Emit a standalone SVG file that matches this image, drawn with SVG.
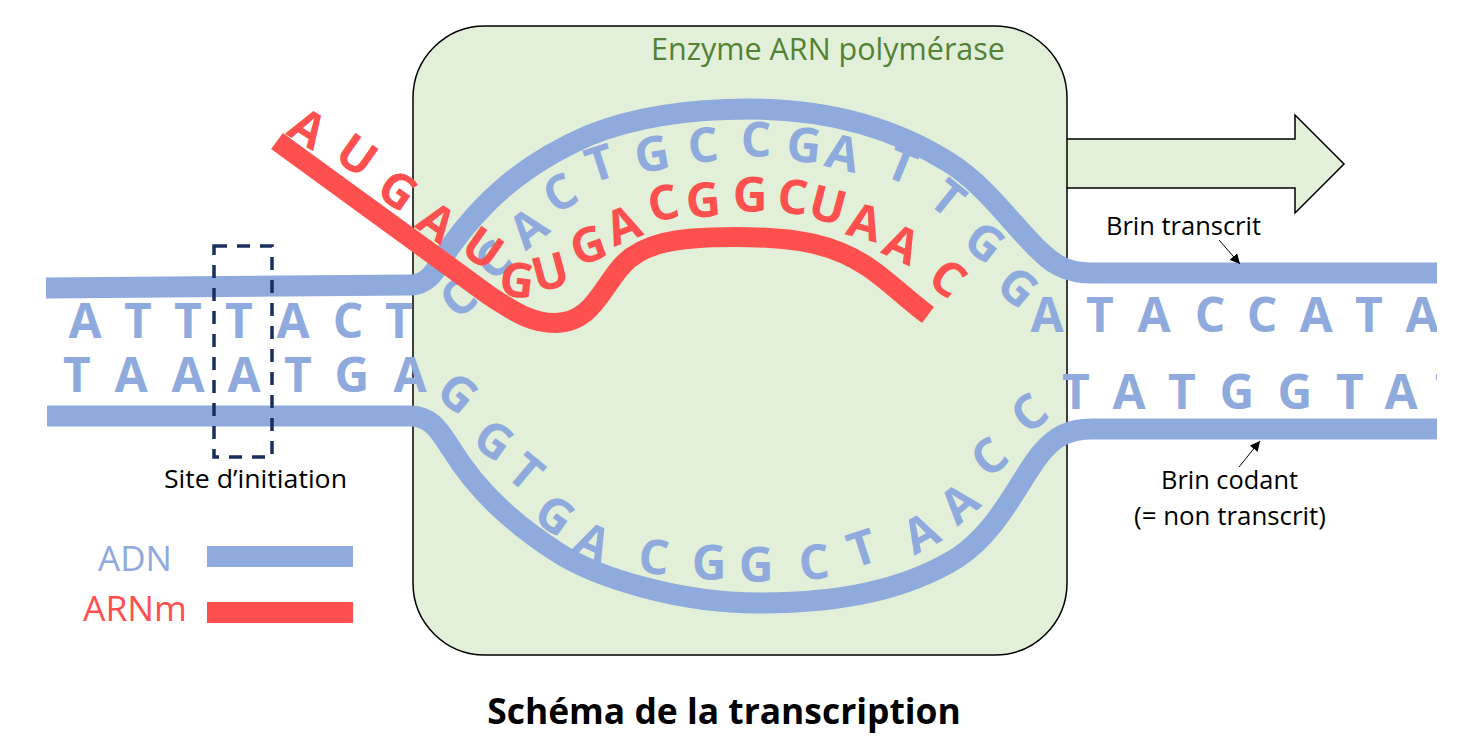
<svg xmlns="http://www.w3.org/2000/svg" width="1464" height="749" viewBox="0 0 1464 749">
  <style>
    text { font-family: "Open Sans", "Noto Sans", "Liberation Sans", sans-serif; }
    .b { fill: #8faadc; font-size: 48px; font-weight: 700; text-anchor: middle; }
    .r { fill: #ff5050; font-size: 48px; font-weight: 700; text-anchor: middle; }
    .dna { fill: none; stroke: #8faadc; stroke-width: 21; }
    .rna { fill: none; stroke: #ff5050; stroke-width: 20; }
    .lab { fill: #000; font-size: 26px; text-anchor: middle; }
    .thin { fill: none; stroke: #000; stroke-width: 1; marker-end: url(#tip); }
  </style>
  <defs>
    <marker id="tip" viewBox="0 0 10 10" refX="10" refY="5" markerWidth="10" markerHeight="10" markerUnits="userSpaceOnUse" orient="auto">
      <path d="M0,0 L10,5 L0,10 Z" fill="#000"/>
    </marker>
    <clipPath id="page"><rect x="0" y="0" width="1437" height="749"/></clipPath>
  </defs>
  <rect width="1464" height="749" fill="#fff"/>

  <g id="polymerase">
    <path d="M1067,139 H1295 V115 L1344,164 L1295,213 V188 H1067" fill="#e2f0d9" stroke="#000" stroke-width="1.5"/>
    <rect x="413" y="26" width="654" height="629" rx="72" fill="#e2f0d9" stroke="#000" stroke-width="1.5"/>
    <text x="828" y="60" font-size="30.5" fill="#548235" text-anchor="middle">Enzyme ARN polymérase</text>
  </g>

  <g id="connectors">
    <path class="dna" d="M46,288 L410,285 C432,285 438,264 450,247 C480,205 520,165 590,135 C640,115 700,109 750,109 C830,109 895,128 950,163 C988,187 1018,232 1042,253 C1055,266 1070,273 1092,273 L1437,273"/>
    <path class="dna" d="M47,416 L410,416 C432,416 440,432 452,450 C480,495 517,526 557,552 C597,578 680,603 759,603 C840,603 905,590 957,558 C1000,530 1020,478 1042,452 C1055,437 1068,429 1092,429 L1437,429"/>
    <path class="thin" d="M1219,240 L1240,264"/>
    <path class="thin" d="M1239,467 L1260,441"/>
  </g>

  <g id="brin-transcrit" clip-path="url(#page)">
    <text class="b" x="85" y="338">A</text>
    <text class="b" x="138" y="338">T</text>
    <text class="b" x="188" y="338">T</text>
    <text class="b" x="239" y="338">T</text>
    <text class="b" x="293" y="338">A</text>
    <text class="b" x="348" y="338">C</text>
    <text class="b" x="399" y="338">T</text>
    <text class="b" y="17" transform="translate(458,298) rotate(-40)">C</text>
    <text class="b" y="17" transform="translate(493,260) rotate(-40)">C</text>
    <text class="b" y="17" transform="translate(528,228) rotate(-38)">A</text>
    <text class="b" y="17" transform="translate(560,193) rotate(-30)">C</text>
    <text class="b" y="17" transform="translate(600,163) rotate(-18)">T</text>
    <text class="b" y="17" transform="translate(652,154) rotate(-10)">G</text>
    <text class="b" y="17" transform="translate(703,145) rotate(-5)">C</text>
    <text class="b" y="17" transform="translate(756,140)">C</text>
    <text class="b" y="17" transform="translate(804,145) rotate(6)">G</text>
    <text class="b" y="17" transform="translate(843,153) rotate(13)">A</text>
    <text class="b" y="17" transform="translate(902,165) rotate(22)">T</text>
    <text class="b" y="17" transform="translate(948,198) rotate(39)">T</text>
    <text class="b" y="17" transform="translate(985,242) rotate(38)">G</text>
    <text class="b" y="17" transform="translate(1018,287) rotate(40)">G</text>
    <text class="b" x="1047" y="332">A</text>
    <text class="b" x="1100" y="332">T</text>
    <text class="b" x="1154" y="332">A</text>
    <text class="b" x="1210" y="332">C</text>
    <text class="b" x="1262" y="332">C</text>
    <text class="b" x="1316" y="332">A</text>
    <text class="b" x="1369" y="332">T</text>
    <text class="b" x="1422" y="332">A</text>
  </g>

  <g id="brin-codant" clip-path="url(#page)">
    <text class="b" x="77" y="392">T</text>
    <text class="b" x="131" y="392">A</text>
    <text class="b" x="188" y="392">A</text>
    <text class="b" x="244" y="392">A</text>
    <text class="b" x="298" y="392">T</text>
    <text class="b" x="352" y="392">G</text>
    <text class="b" x="410" y="392">A</text>
    <text class="b" y="17" transform="translate(458,393) rotate(40)">G</text>
    <text class="b" y="17" transform="translate(494,440) rotate(35)">G</text>
    <text class="b" y="17" transform="translate(526,472) rotate(40)">T</text>
    <text class="b" y="17" transform="translate(555,515) rotate(35)">G</text>
    <text class="b" y="17" transform="translate(593,542) rotate(25)">A</text>
    <text class="b" y="17" transform="translate(654,557) rotate(5)">C</text>
    <text class="b" y="17" transform="translate(709,563)">G</text>
    <text class="b" y="17" transform="translate(756,565)">G</text>
    <text class="b" y="17" transform="translate(814,562) rotate(-5)">C</text>
    <text class="b" y="17" transform="translate(862,548) rotate(-18)">T</text>
    <text class="b" y="17" transform="translate(921,533) rotate(-28)">A</text>
    <text class="b" y="17" transform="translate(959,503) rotate(-40)">A</text>
    <text class="b" y="17" transform="translate(989,457) rotate(-40)">C</text>
    <text class="b" y="17" transform="translate(1029,413) rotate(-40)">C</text>
    <text class="b" x="1076" y="409">T</text>
    <text class="b" x="1129" y="409">A</text>
    <text class="b" x="1182" y="409">T</text>
    <text class="b" x="1237" y="409">G</text>
    <text class="b" x="1295" y="409">G</text>
    <text class="b" x="1350" y="409">T</text>
    <text class="b" x="1401" y="409">A</text>
    <text class="b" x="1449" y="409">T</text>
  </g>

  <g id="arnm">
    <path class="rna" d="M277,141 L490,296 C520,316 535,323 555,323 C590,323 600,292 620,268 C640,243 675,237 735,237 C800,237 835,245 868,267 C890,282 905,298 928,315"/>
    <text class="r" y="17" transform="translate(308,128) rotate(32)">A</text>
    <text class="r" y="17" transform="translate(357,155) rotate(35)">U</text>
    <text class="r" y="17" transform="translate(398,190) rotate(35)">G</text>
    <text class="r" y="17" transform="translate(437,222) rotate(35)">A</text>
    <text class="r" y="17" transform="translate(483,248) rotate(35)">U</text>
    <text class="r" y="17" transform="translate(517,280) rotate(7)">G</text>
    <text class="r" y="17" transform="translate(550,272) rotate(-15)">U</text>
    <text class="r" y="17" transform="translate(588,245) rotate(-20)">G</text>
    <text class="r" y="17" transform="translate(623,225) rotate(-22)">A</text>
    <text class="r" y="17" transform="translate(663,203) rotate(-12)">C</text>
    <text class="r" y="17" transform="translate(703,200) rotate(-5)">G</text>
    <text class="r" y="17" transform="translate(750,195)">G</text>
    <text class="r" y="17" transform="translate(793,197) rotate(5)">C</text>
    <text class="r" y="17" transform="translate(828,205) rotate(15)">U</text>
    <text class="r" y="17" transform="translate(865,222) rotate(15)">A</text>
    <text class="r" y="17" transform="translate(902,244) rotate(25)">A</text>
    <text class="r" y="17" transform="translate(948,278) rotate(38)">C</text>
  </g>

  <g id="site-initiation">
    <rect x="214" y="246" width="58" height="211" fill="none" stroke="#1a2f5c" stroke-width="3.5" stroke-dasharray="13 10"/>
    <text class="lab" x="255.500" y="488" textLength="183" lengthAdjust="spacingAndGlyphs">Site d’initiation</text>
  </g>

  <g id="label-transcrit"><text class="lab" x="1183.500" y="235" textLength="155" lengthAdjust="spacingAndGlyphs">Brin transcrit</text></g>
  <g id="label-codant">
    <text class="lab" x="1229.500" y="489" textLength="137" lengthAdjust="spacingAndGlyphs">Brin codant</text>
    <text class="lab" x="1230" y="525" textLength="192" lengthAdjust="spacingAndGlyphs">(= non transcrit)</text>
  </g>

  <g id="legende">
    <text x="135" y="571" font-size="35" fill="#8faadc" text-anchor="middle">ADN</text>
    <rect x="207" y="546" width="146" height="21" fill="#8faadc"/>
    <text x="135" y="621" font-size="35.500" fill="#ff5050" text-anchor="middle">ARNm</text>
    <rect x="207" y="602" width="146" height="21" fill="#ff5050"/>
  </g>

  <g id="titre">
    <text x="724" y="724" font-size="35.400" font-weight="700" fill="#000" text-anchor="middle">Schéma de la transcription</text>
  </g>
</svg>
